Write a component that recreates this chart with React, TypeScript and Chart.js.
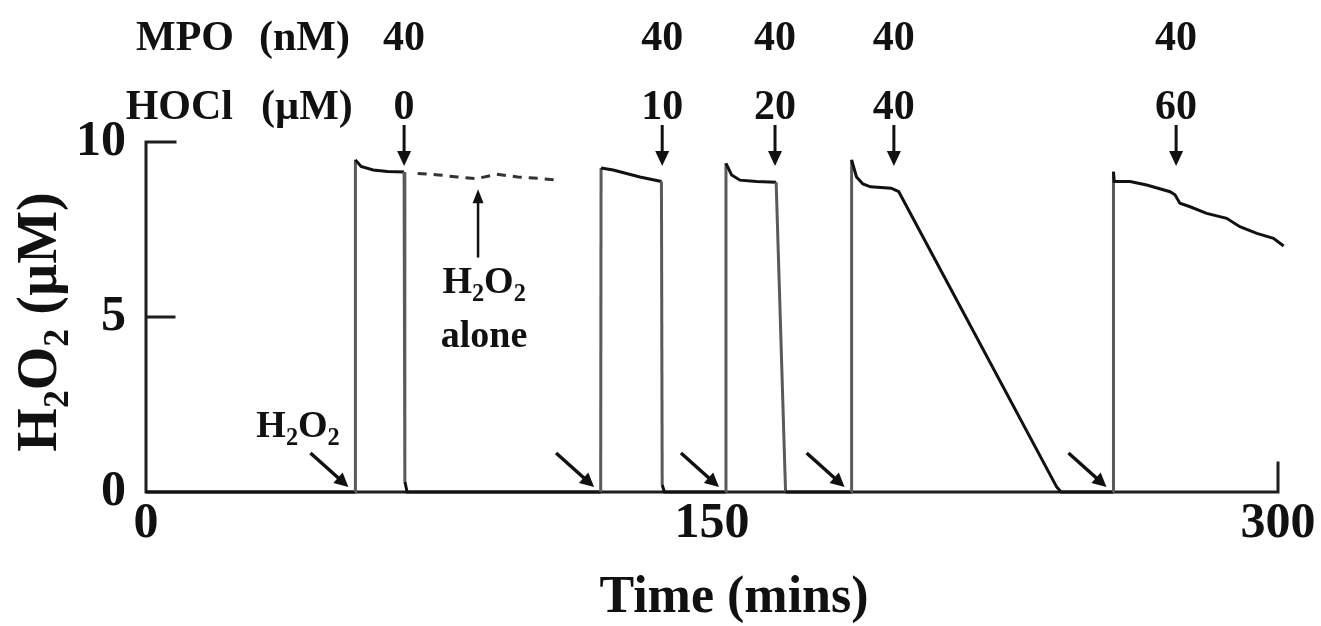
import React, { useEffect, useRef } from "react";
import { Chart, registerables } from "chart.js";

Chart.register(...registerables);

// ---- data ----
const traceTimes = [
  0, 55.4, 55.5, 57.0, 60.2, 64.0, 68.4, 68.6, 69.2,
  120.5, 120.6, 123.8, 130.9, 136.6, 136.8, 137.4,
  153.6, 153.7, 155.2, 157.4, 161.8, 167.0, 169.5,
  186.9, 187.0, 188.3, 190.0, 192.0, 197.5, 199.5, 241.3, 242.5,
  256.3, 256.4, 256.6, 260.8, 265.2, 271.4, 272.7, 274.0, 276.7, 281.1, 286.4, 289.9, 294.4, 298.8, 301.5,
];
const traceValues = [
  0, 0, 9.49, 9.3, 9.2, 9.16, 9.14, 0.3, 0,
  0, 9.26, 9.2, 9.0, 8.87, 0.2, 0,
  0, 9.39, 9.06, 8.91, 8.87, 8.85, 0,
  0, 9.49, 9.0, 8.8, 8.72, 8.68, 8.58, 0.15, 0,
  0, 9.15, 8.87, 8.87, 8.77, 8.58, 8.49, 8.25, 8.15, 7.96, 7.82, 7.58, 7.39, 7.25, 7.03,
];
const aloneTimes = [72.0, 77.5, 82.5, 87.5, 93.0, 98.5, 104.0, 109.7];
const aloneValues = [9.1, 9.06, 9.0, 8.95, 9.08, 9.0, 8.96, 8.91];

const mpoAddTimes = [68.4, 136.8, 166.7, 198.2, 273.0];
const mpoLabels = ["40", "40", "40", "40", "40"];
const hoclLabels = ["0", "10", "20", "40", "60"];
const h2o2AddTimes = [55.5, 120.6, 153.7, 187.0, 256.4];

const xTickValues = [0, 150, 300];
const yTickValues = [0, 5, 10];
const xMin = 0, xMax = 300, yMin = 0, yMax = 10;

const aloneLabelTime = 89.6;
const aloneArrowTime = 88.0;
const firstH2O2LabelTime = 40.3;

const SERIF = '"Liberation Serif", "Times New Roman", serif';

type Part = [string, boolean];
const H2O2: Part[] = [["H", false], ["2", true], ["O", false], ["2", true]];

function drawParts(ctx: CanvasRenderingContext2D, parts: Part[], x: number, y: number, size: number, align: "left" | "center" | "right") {
  const sub = size * 0.64;
  let total = 0;
  const widths: number[] = [];
  for (const [t, s] of parts) {
    ctx.font = `bold ${s ? sub : size}px ${SERIF}`;
    const w = ctx.measureText(t).width;
    widths.push(w);
    total += w;
  }
  let cx = align === "left" ? x : align === "center" ? x - total / 2 : x - total;
  ctx.textAlign = "left";
  ctx.textBaseline = "alphabetic";
  parts.forEach(([t, s], i) => {
    ctx.font = `bold ${s ? sub : size}px ${SERIF}`;
    ctx.fillText(t, cx, s ? y + size * 0.22 : y);
    cx += widths[i];
  });
}

function arrow(ctx: CanvasRenderingContext2D, x1: number, y1: number, x2: number, y2: number, head: number, width: number, lw: number) {
  const a = Math.atan2(y2 - y1, x2 - x1);
  const bx = x2 - head * Math.cos(a);
  const by = y2 - head * Math.sin(a);
  ctx.lineWidth = lw;
  ctx.beginPath();
  ctx.moveTo(x1, y1);
  ctx.lineTo(bx + Math.cos(a) * 2, by + Math.sin(a) * 2);
  ctx.stroke();
  ctx.beginPath();
  ctx.moveTo(x2, y2);
  ctx.lineTo(bx + (width / 2) * Math.sin(a), by - (width / 2) * Math.cos(a));
  ctx.lineTo(bx - (width / 2) * Math.sin(a), by + (width / 2) * Math.cos(a));
  ctx.closePath();
  ctx.fill();
}

const framePlugin = {
  id: "frame",
  beforeDatasetsDraw(chart: any) {
    const { ctx, scales } = chart;
    const xs = scales.x, ys = scales.y;
    const left = xs.getPixelForValue(xMin);
    const right = xs.getPixelForValue(xMax);
    const y0 = ys.getPixelForValue(yMin);
    ctx.save();
    ctx.strokeStyle = "#1e1e1e";
    ctx.lineWidth = 3;
    ctx.lineCap = "square";
    ctx.beginPath();
    const yTop = ys.getPixelForValue(yTickValues[yTickValues.length - 1]);
    ctx.moveTo(left + 29, yTop);
    ctx.lineTo(left, yTop);
    ctx.lineTo(left, y0);
    ctx.lineTo(right, y0);
    ctx.lineTo(right, y0 - 29);
    for (const v of yTickValues) {
      if (v === yMin || v === yMax) continue;
      const py = ys.getPixelForValue(v);
      ctx.moveTo(left, py);
      ctx.lineTo(left + 28, py);
    }
    ctx.stroke();
    ctx.restore();
  },
  afterDatasetsDraw(chart: any) {
    const { ctx, scales, chartArea } = chart;
    const xs = scales.x, ys = scales.y;
    const top = chartArea.top;
    const y0 = ys.getPixelForValue(0);
    ctx.save();
    ctx.fillStyle = "#111";
    ctx.strokeStyle = "#111";
    ctx.lineCap = "butt";

    // header rows
    const mpoY = top - 92;
    const hoclY = top - 23;
    ctx.font = `bold 42px ${SERIF}`;
    ctx.textBaseline = "alphabetic";
    ctx.textAlign = "right";
    ctx.fillText("MPO", 234, mpoY);
    ctx.fillText("HOCl", 233, hoclY);
    ctx.textAlign = "left";
    ctx.fillText("(nM)", 259, mpoY);
    ctx.fillText("(\u00b5M)", 261, hoclY);
    ctx.textAlign = "center";
    mpoAddTimes.forEach((t, i) => {
      const px = xs.getPixelForValue(t);
      ctx.fillText(mpoLabels[i], px, mpoY);
      ctx.fillText(hoclLabels[i], px, hoclY);
      arrow(ctx, px, top - 17, px, top + 24, 15, 14, 3);
    });

    // H2O2 addition arrows
    h2o2AddTimes.forEach((t) => {
      const px = xs.getPixelForValue(t);
      arrow(ctx, px - 45, y0 - 39, px - 7, y0 - 5, 14, 14, 3.5);
    });

    // "H2O2" label near first addition
    drawParts(ctx, H2O2, xs.getPixelForValue(firstH2O2LabelTime), ys.getPixelForValue(1.57), 38, "center");

    // "H2O2 alone" label and arrow
    const ax = xs.getPixelForValue(aloneArrowTime);
    arrow(ctx, ax, ys.getPixelForValue(6.7), ax, ys.getPixelForValue(8.65), 14, 11, 2.5);
    const lx = xs.getPixelForValue(aloneLabelTime);
    drawParts(ctx, H2O2, lx, ys.getPixelForValue(5.69), 38, "center");
    ctx.font = `bold 38px ${SERIF}`;
    ctx.textAlign = "center";
    ctx.fillText("alone", lx, ys.getPixelForValue(4.14));

    // axis titles
    ctx.font = `bold 52px ${SERIF}`;
    ctx.textAlign = "center";
    ctx.fillText("Time (mins)", 734, 612);

    ctx.translate(56, (ys.getPixelForValue(0) + ys.getPixelForValue(10)) / 2 + 5);
    ctx.rotate(-Math.PI / 2);
    drawParts(ctx, [...H2O2, [" (\u00b5M)", false]], 0, 0, 56, "center");
    ctx.restore();
  },
};

export default function App() {
  const ref = useRef<HTMLCanvasElement | null>(null);
  useEffect(() => {
    if (!ref.current) return;
    const trace = traceTimes.map((t, i) => ({ x: t, y: traceValues[i] }));
    const alone = aloneTimes.map((t, i) => ({ x: t, y: aloneValues[i] }));
    const chart = new Chart(ref.current, {
      type: "line",
      data: {
        datasets: [
          {
            data: trace,
            borderColor: "#111",
            borderWidth: 3,
            pointRadius: 0,
            tension: 0,
            clip: false as any,
            segment: {
              borderColor: (c: any) =>
                Math.abs(c.p1.parsed.x - c.p0.parsed.x) < 3 && Math.abs(c.p1.parsed.y - c.p0.parsed.y) > 5 ? "#5a5a5a" : "#111",
            },
          } as any,
          {
            data: alone,
            borderColor: "#333",
            borderWidth: 3,
            borderDash: [9, 7],
            pointRadius: 0,
            tension: 0,
          },
        ],
      },
      options: {
        animation: false,
        responsive: false,
        devicePixelRatio: 1,
        layout: { padding: { top: 142, right: 43, left: 0, bottom: 0 } },
        plugins: { legend: { display: false }, tooltip: { enabled: false } },
        scales: {
          x: {
            type: "linear",
            min: xMin,
            max: xMax,
            afterBuildTicks: (s: any) => { s.ticks = xTickValues.map((v) => ({ value: v })); },
            ticks: { font: { family: SERIF, size: 50, weight: "bold" }, color: "#111", padding: 2, maxRotation: 0 },
            grid: { display: false, drawTicks: false, tickLength: 0 },
            border: { display: false },
            afterFit: (s: any) => { s.height = 134; },
          },
          y: {
            type: "linear",
            min: yMin,
            max: yMax,
            afterBuildTicks: (s: any) => { s.ticks = yTickValues.map((v) => ({ value: v })); },
            ticks: { font: { family: SERIF, size: 50, weight: "bold" }, color: "#111", padding: 20 },
            grid: { display: false, drawTicks: false, tickLength: 0 },
            border: { display: false },
            afterFit: (s: any) => { s.width = 146; },
          },
        },
      },
      plugins: [framePlugin],
    });
    return () => chart.destroy();
  }, []);
  return (
    <div style={{ position: "fixed", left: 0, top: 0, width: 1321, height: 626, background: "#fff" }}>
      <canvas ref={ref} width={1321} height={626} style={{ display: "block" }} />
    </div>
  );
}
